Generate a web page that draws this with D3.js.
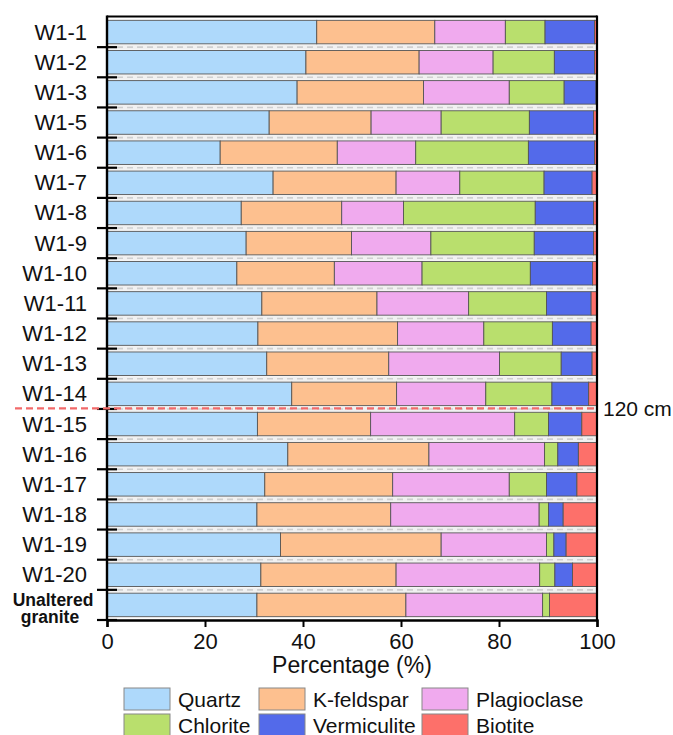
<!DOCTYPE html>
<meta charset="utf-8">
<script src="https://d3js.org/d3.v7.min.js"></script>
<style>
  body { margin: 0; background: #fff; }
  text { font-family: "Liberation Sans", Arial, sans-serif; fill: #111; }
</style>
<div id="chart"></div>
<script>
// samples, top to bottom
var samples = ["W1-1", "W1-2", "W1-3", "W1-5", "W1-6", "W1-7", "W1-8", "W1-9", "W1-10",
  "W1-11", "W1-12", "W1-13", "W1-14", "W1-15", "W1-16", "W1-17", "W1-18", "W1-19",
  "W1-20", "Unaltered granite"];
var minerals = ["Quartz", "K-feldspar", "Plagioclase", "Chlorite", "Vermiculite", "Biotite"];
var colors = ["#aed9fb", "#fdc08f", "#f0aaee", "#b9df6d", "#536aea", "#fd706a"];

// percentages per mineral, same order as samples
var quartz      = [42.8, 40.6, 38.8, 33.1, 23.1, 33.9, 27.4, 28.4, 26.5, 31.6, 30.8, 32.6, 37.7, 30.7, 36.9, 32.2, 30.6, 35.4, 31.4, 30.6];
var kfeldspar   = [24.1, 23.1, 25.8, 20.8, 23.9, 25.1, 20.5, 21.5, 19.9, 23.5, 28.5, 24.9, 21.4, 23.1, 28.8, 26.1, 27.3, 32.8, 27.6, 30.4];
var plagioclase = [14.4, 15.1, 17.5, 14.3, 16.0, 13.0, 12.6, 16.2, 17.9, 18.7, 17.6, 22.6, 18.2, 29.4, 23.6, 23.8, 30.3, 21.5, 29.3, 27.9];
var chlorite    = [8.1, 12.5, 11.2, 18.0, 23.0, 17.2, 26.9, 21.1, 22.1, 15.9, 14.0, 12.6, 13.5, 6.9, 2.7, 7.6, 1.9, 1.5, 3.1, 1.4];
var vermiculite = [10.1, 8.2, 6.5, 13.1, 13.5, 9.8, 11.9, 12.1, 12.7, 9.1, 7.9, 6.3, 7.5, 6.8, 4.2, 6.2, 3.0, 2.5, 3.6, 0];
var biotite     = [0.5, 0.5, 0.2, 0.7, 0.5, 1.0, 0.7, 0.7, 0.9, 1.2, 1.2, 1.0, 1.7, 3.1, 3.8, 4.1, 6.9, 6.3, 5.0, 9.7];
var xTicks = [0, 20, 40, 60, 80, 100];
var depthLabel = "120 cm";
var depthAfter = "W1-14";

var width = 673, height = 735;
var margin = {top: 17, left: 107, right: 76, bottom: 115};

var series = [quartz, kfeldspar, plagioclase, chlorite, vermiculite, biotite];
var rows = samples.map(function(s, i) {
  var r = {sample: s};
  minerals.forEach(function(m, j) { r[m] = series[j][i]; });
  return r;
});
var stacked = d3.stack().keys(minerals)(rows);

var svg = d3.select("#chart").append("svg")
  .attr("width", width).attr("height", height);

var x = d3.scaleLinear().domain([0, 100]).range([margin.left, width - margin.right]);
var y = d3.scaleBand().domain(samples)
  .range([margin.top, height - margin.bottom])
  .paddingInner(0.22).paddingOuter(0.11);
var step = y.step();
var bounds = d3.range(samples.length + 1).map(function(i) { return margin.top + i * step; });

// dashed separators between bars
var sep = svg.append("g");
bounds.slice(1, -1).forEach(function(b) {
  sep.append("rect").attr("x", x(0)).attr("y", b - 2.5).attr("width", x(100) - x(0)).attr("height", 5)
    .attr("fill", "#f1f1f1");
  sep.append("line").attr("x1", x(0)).attr("x2", x(100)).attr("y1", b).attr("y2", b)
    .attr("stroke", "#cfcfcf").attr("stroke-width", 1.6).attr("stroke-dasharray", "6,4");
});

// bars
svg.append("g").selectAll("g").data(stacked).enter().append("g")
    .attr("fill", function(d, i) { return colors[i]; })
  .selectAll("rect").data(function(d) { return d; }).enter().append("rect")
    .filter(function(d) { return d[1] - d[0] > 0; })
    .attr("x", function(d) { return x(d[0]); })
    .attr("width", function(d) { return x(d[1]) - x(d[0]); })
    .attr("y", function(d) { return y(d.data.sample); })
    .attr("height", y.bandwidth())
    .attr("stroke", "#555").attr("stroke-width", 0.9);

// frame
svg.append("line").attr("x1", x(0)).attr("x2", x(100)).attr("y1", margin.top - 0.5).attr("y2", margin.top - 0.5)
  .attr("stroke", "#000").attr("stroke-width", 2);
svg.append("line").attr("x1", x(100)).attr("x2", x(100)).attr("y1", margin.top - 1.5).attr("y2", bounds[bounds.length - 1])
  .attr("stroke", "#000").attr("stroke-width", 2.2);

// bottom axis
var xAxis = svg.append("g")
  .attr("transform", "translate(0," + bounds[bounds.length - 1] + ")")
  .call(d3.axisBottom(x).tickValues(xTicks).tickSize(7).tickPadding(6));
xAxis.select(".domain").attr("stroke-width", 2.4);
xAxis.selectAll(".tick line").attr("stroke-width", 2);
xAxis.selectAll(".tick text").attr("font-size", 22)
  .attr("font-family", "'Liberation Sans', Arial, sans-serif").attr("fill", "#111");

svg.append("text").attr("x", (x(0) + x(100)) / 2).attr("y", 673)
  .attr("text-anchor", "middle").attr("font-size", 23).text("Percentage (%)");

// left axis with ticks at band boundaries
svg.append("line").attr("x1", x(0)).attr("x2", x(0)).attr("y1", margin.top - 1.5).attr("y2", bounds[bounds.length - 1] + 1)
  .attr("stroke", "#000").attr("stroke-width", 2.4);
svg.append("g").selectAll("line").data(bounds.slice(1)).enter().append("line")
  .attr("x1", x(0) - 10).attr("x2", x(0) + 10)
  .attr("y1", function(d) { return d; }).attr("y2", function(d) { return d; })
  .attr("stroke", "#000").attr("stroke-width", 2.2);

// sample labels
samples.forEach(function(s) {
  var cy = y(s) + y.bandwidth() / 2;
  if (s === "Unaltered granite") {
    var t = svg.append("text").attr("text-anchor", "middle").attr("font-size", 17.5)
      .attr("font-weight", "bold");
    t.append("tspan").attr("x", 53).attr("y", cy + 1.5).text("Unaltered");
    t.append("tspan").attr("x", 50).attr("y", cy + 18.5).text("granite");
  } else {
    svg.append("text").attr("x", 87).attr("y", cy + 7.5)
      .attr("text-anchor", "end").attr("font-size", 22).text(s);
  }
});

// 120 cm marker
var ry = bounds[samples.indexOf(depthAfter) + 1] - 0.5;
svg.append("line").attr("x1", 15).attr("x2", x(100) - 1).attr("y1", ry).attr("y2", ry)
  .attr("stroke", "#f26a6a").attr("stroke-width", 2.2).attr("stroke-dasharray", "7,4");
svg.append("text").attr("x", 603).attr("y", ry + 7.5).attr("font-size", 21).text(depthLabel);

// legend
var legX = [124, 259, 422], legY = [688, 714];
var leg = svg.append("g").selectAll("g").data(minerals).enter().append("g")
  .attr("transform", function(d, i) { return "translate(" + legX[i % 3] + "," + legY[Math.floor(i / 3)] + ")"; });
leg.append("rect").attr("width", 46).attr("height", 22)
  .attr("fill", function(d, i) { return colors[i]; })
  .attr("stroke", "#888").attr("stroke-width", 1);
leg.append("text").attr("x", 54).attr("y", 18.5).attr("font-size", 21).text(function(d) { return d; });
</script>
